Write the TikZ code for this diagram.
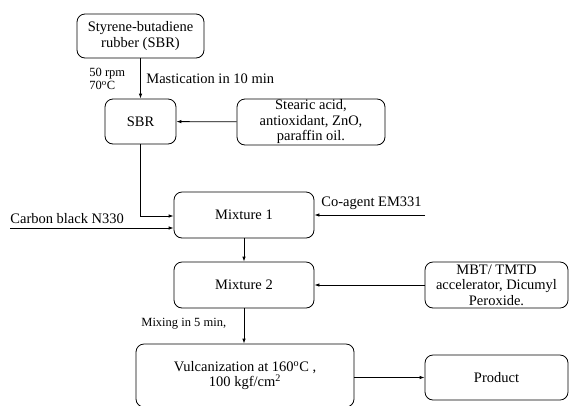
\documentclass[tikz,border=0pt]{standalone}
\usepackage{fontspec}
\setmainfont{Liberation Serif}
\usetikzlibrary{arrows.meta}

\def \degsup {\textsuperscript{o}}

\begin{document}
\begin{tikzpicture}[x=1pt, y=-1pt, line width=.8pt, font=\fontsize{14.5}{15.5}\selectfont]

\useasboundingbox (0,0) rectangle (569,405);
\clip (0,0) rectangle (569,405);

\begin{scope}[every node/.style={draw, rounded corners=8pt, align=center, inner sep=0pt}]
\node(styr) at(140.5,36) [minimum width=127, minimum height=44] {Styrene-butadiene\\rubber (SBR)};
\node(sbr) at(140.5,121.5) [minimum width=71, minimum height=45] {SBR};
\node(stear) at(311,122) [minimum width=148, minimum height=46] {Stearic acid,\\antioxidant, ZnO,\\paraffin oil.};
\node(mix1) at(244,215) [minimum width=140, minimum height=46] {Mixture 1};
\node(mix2) at(244,285) [minimum width=140, minimum height=46] {Mixture 2};
\node(mbt) at(496.5,285) [minimum width=143, minimum height=46] {MBT/ TMTD\\accelerator, Dicumyl\\Peroxide.};
\node(vulc) at(245,375.5) [minimum width=218, minimum height=63] {Vulcanization at 160\degsup C ,\\100 kgf/cm\textsuperscript{2}};
\node(prod) at(496.5,377.5) [minimum width=143, minimum height=45] {Product};
\end{scope}

\coordinate(cb) at(10,228);
\coordinate(co) at(425,215);

\node(rpm) at(89,79) [anchor=west, align=left, inner sep=0pt, font=\fontsize{12.5}{13.5}\selectfont] {50 rpm\\70\degsup C};
\node(mast) at(146,79) [anchor=west, inner sep=0pt] {Mastication in 10 min};
\node(cbl) at(cb) [anchor=south west, inner sep=0pt, yshift=4pt] {Carbon black N330};
\node(col) at(321,203) [anchor=west, inner sep=0pt] {Co-agent EM331};
\node(mixl) at(141,324) [anchor=west, inner sep=0pt, font=\fontsize{12.5}{13.5}\selectfont] {Mixing in 5 min,};

\begin{scope}[-{Latex[length=5pt,width=3.5pt]}]
\draw (styr) -- (sbr);
\draw (stear) -- (sbr);
\draw (sbr.south) |- ([yshift=-1pt]mix1.west);
\draw (cb) -- (cb -| mix1.west);
\draw (co) -- (mix1.east);
\draw (mix1) -- (mix2);
\draw (mbt) -- (mix2);
\draw (mix2.south) -- (mix2.south |- vulc.north);
\draw (vulc.east |- prod.west) -- (prod.west);
\end{scope}

\end{tikzpicture}
\end{document}
